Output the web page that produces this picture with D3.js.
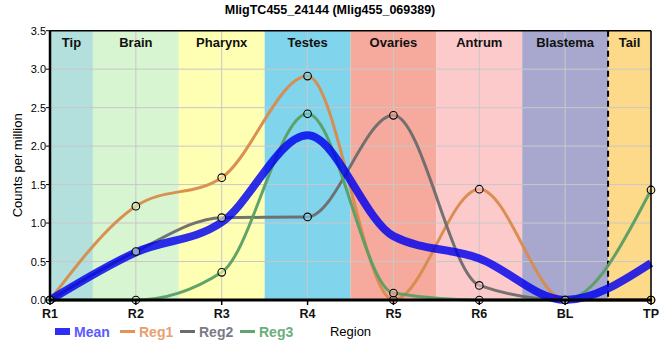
<!DOCTYPE html>
<html><head><meta charset="utf-8">
<script src="https://cdn.jsdelivr.net/npm/d3@7"></script>
<style>
body{margin:0;background:#fff;}
text{font-family:"Liberation Sans",Arial,sans-serif;}
</style></head>
<body><svg id="c" width="660" height="360"></svg>
<script>
const title = "MligTC455_24144 (Mlig455_069389)";
const categories = ["R1","R2","R3","R4","R5","R6","BL","TP"];
const meanVals = [0, 0.62, 1.01, 2.14, 0.83, 0.54, 0, 0.48];
const reg1 = [0, 1.22, 1.59, 2.91, 0, 1.44, 0, 0];
const reg2 = [0, 0.63, 1.07, 1.08, 2.40, 0.19, 0, 0];
const reg3 = [0, 0, 0.36, 2.42, 0.09, 0, 0, 1.43];
const yTicks = [0,0.5,1,1.5,2,2.5,3,3.5];
const bandNames = ["Tip","Brain","Pharynx","Testes","Ovaries","Antrum","Blastema","Tail"];
const bandStart = [0,0.5,1.5,2.5,3.5,4.5,5.5,6.5];
const bandEnd = [0.5,1.5,2.5,3.5,4.5,5.5,6.5,7];
const bandColors = ["#b3e0dc","#d7f5d0","#ffffb4","#80d4eb","#f5aa9d","#fdcacb","#a8a8cf","#fdd98a"];

const svg = d3.select("#c");
const L=50, R=651, T=30.7, B=300;
const x = d3.scalePoint().domain(categories).range([L,R]);
const xi = d3.scaleLinear().domain([0,categories.length-1]).range([L,R]);
const y = d3.scaleLinear().domain([0,3.5]).range([B,T]);

svg.append("text").attr("x",330).attr("y",14).attr("text-anchor","middle")
  .attr("font-size",12.5).attr("font-weight","bold").text(title);

// bands
const g = svg.append("g");
g.selectAll("rect.band").data(bandNames).join("rect")
  .attr("x",(d,i)=>xi(bandStart[i])).attr("width",(d,i)=>xi(bandEnd[i])-xi(bandStart[i]))
  .attr("y",T).attr("height",B-T).attr("fill",(d,i)=>bandColors[i]);

// grid
g.selectAll("line.hg").data(yTicks).join("line")
  .attr("x1",L).attr("x2",R).attr("y1",d=>y(d)).attr("y2",d=>y(d))
  .attr("stroke","#c8c8c8").attr("stroke-width",1);
g.selectAll("line.vg").data(categories).join("line")
  .attr("x1",d=>x(d)).attr("x2",d=>x(d)).attr("y1",T).attr("y2",B)
  .attr("stroke","#c8c8c8").attr("stroke-width",1);

// band labels
g.selectAll("text.bl").data(bandNames).join("text")
  .attr("x",(d,i)=>(xi(bandStart[i])+xi(bandEnd[i]))/2).attr("y",47)
  .attr("text-anchor","middle").attr("font-size",13).attr("font-weight","bold")
  .attr("fill","#111").text(d=>d);

// dashed line
g.append("line").attr("x1",xi(6.5)).attr("x2",xi(6.5)).attr("y1",T).attr("y2",B)
  .attr("stroke","#000").attr("stroke-width",2).attr("stroke-dasharray","6,4");

const line = d3.line().x((d,i)=>x(categories[i])).y(d=>y(d)).curve(d3.curveMonotoneX);
const series = [
  {name:"Reg1",vals:reg1,color:"#d98a4c",w:3},
  {name:"Reg2",vals:reg2,color:"#6b6b6b",w:3},
  {name:"Reg3",vals:reg3,color:"#5a9e64",w:3}
];
series.forEach(s=>{
  svg.append("path").attr("d",line(s.vals)).attr("fill","none")
    .attr("stroke",s.color).attr("stroke-width",s.w).attr("opacity",0.95);
});
svg.append("path").attr("d",line(meanVals)).attr("fill","none")
  .attr("stroke","#0000ee").attr("stroke-width",8).attr("opacity",0.82);

// markers
series.forEach(s=>{
  svg.selectAll(null).data(s.vals).join("circle")
    .attr("cx",(d,i)=>x(categories[i])).attr("cy",d=>y(d)).attr("r",3.8)
    .attr("fill",(d,i)=>bandColors[i]).attr("fill-opacity",0.6)
    .attr("stroke","#000").attr("stroke-width",1.1);
});

// frame
svg.append("line").attr("x1",L).attr("x2",R).attr("y1",T).attr("y2",T).attr("stroke","#000").attr("stroke-width",1.5);
svg.append("line").attr("x1",R).attr("x2",R).attr("y1",T).attr("y2",B).attr("stroke","#000").attr("stroke-width",1.5);
svg.append("line").attr("x1",L).attr("x2",L).attr("y1",T).attr("y2",B+1.5).attr("stroke","#000").attr("stroke-width",2.5);
svg.append("line").attr("x1",L-1).attr("x2",R+1).attr("y1",B).attr("y2",B).attr("stroke","#000").attr("stroke-width",3);

// ticks and labels
svg.selectAll("line.yt").data(yTicks).join("line")
  .attr("x1",L-4).attr("x2",L).attr("y1",d=>y(d)).attr("y2",d=>y(d)).attr("stroke","#000");
svg.selectAll("text.yl").data(yTicks).join("text")
  .attr("x",L-4).attr("y",d=>y(d)+4).attr("text-anchor","end").attr("font-size",11)
  .text(d=>d.toFixed(1));
svg.selectAll("line.xt").data(categories).join("line")
  .attr("x1",d=>x(d)).attr("x2",d=>x(d)).attr("y1",B).attr("y2",B+5).attr("stroke","#000").attr("stroke-width",1.5);
svg.selectAll("text.xl").data(categories).join("text")
  .attr("x",d=>x(d)).attr("y",B+18).attr("text-anchor","middle").attr("font-size",12.5)
  .attr("font-weight","bold").attr("fill","#111").text(d=>d);

svg.append("text").attr("transform",`translate(22,${(T+B)/2}) rotate(-90)`)
  .attr("text-anchor","middle").attr("font-size",13).text("Counts per million");
svg.append("text").attr("x",(L+R)/2).attr("y",336).attr("text-anchor","middle")
  .attr("font-size",13).text("Region");

// legend
const leg = [
  {name:"Mean",color:"#2e2ef5",text:"#5a5aff",rect:true,x:55},
  {name:"Reg1",color:"#e0935a",text:"#e8a070",x:120},
  {name:"Reg2",color:"#6b6b6b",text:"#7a7a86",x:180},
  {name:"Reg3",color:"#5fa56c",text:"#6aae7a",x:240}
];
leg.forEach(l=>{
  if(l.rect) svg.append("rect").attr("x",l.x).attr("y",328).attr("width",15).attr("height",7).attr("fill",l.color);
  else svg.append("line").attr("x1",l.x).attr("x2",l.x+15).attr("y1",331.5).attr("y2",331.5).attr("stroke",l.color).attr("stroke-width",3);
  svg.append("text").attr("x",l.x+19).attr("y",337).attr("font-size",14).attr("font-weight","bold")
    .attr("fill",l.text).text(l.name);
});
</script></body></html>
